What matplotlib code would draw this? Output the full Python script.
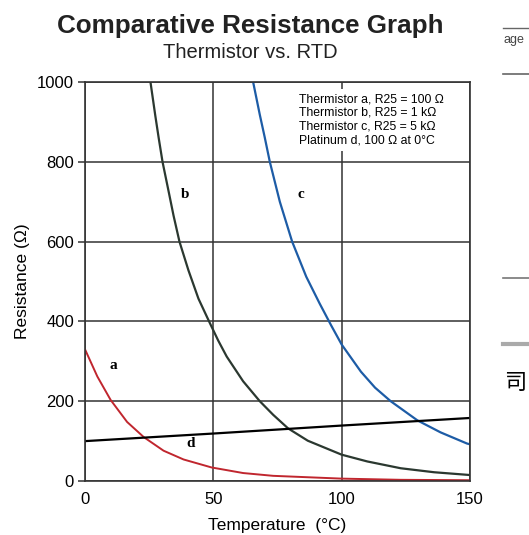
"""
    plot.py

    Comparative resistance graph: thermistor vs. RTD
"""

import numpy as np
import matplotlib
matplotlib.use("Agg")
import matplotlib.pyplot as plt
from matplotlib.lines import Line2D

# curve a: thermistor, R25 = 100 ohm
temp_a = [0, 4.8, 10, 16.4, 22.9, 30.6, 38.4, 49.3, 61.6, 73.3, 100, 123, 150]
res_a = [330, 262, 203, 148, 110, 76, 54, 34, 20, 13, 6, 3, 2]

# curve b: thermistor, R25 = 1 kohm
temp_b = [24, 25.5, 27.4, 28.7, 30.2, 32.6, 34.5, 36.8, 40.3, 44.2, 48.7,
          51.9, 55.2, 61.6, 68.1, 73.3, 79.1, 86.8, 100, 110, 123, 136, 150]
res_b = [1070, 1000, 915, 860, 800, 725, 665, 600, 528, 457, 395,
         352, 312, 250, 200, 166, 132, 101, 66, 49, 32, 22, 15]

# curve c: thermistor, R25 = 5 kohm
temp_c = [64, 65.5, 68.1, 70, 72, 75.9, 80.7, 86.2, 91.4, 95.9, 100,
          107.5, 113, 119.1, 129.5, 138.5, 148.8, 150]
res_c = [1060, 1000, 918, 862, 800, 700, 600, 512, 445, 390, 342,
         274, 234, 200, 152, 122, 94, 92]

# curve d: platinum RTD, 100 ohm at 0 C
temp_d = [0, 50, 100, 150]
res_d = [100, 119, 139, 158]

legend_lines = ["Thermistor a, R25 = 100 \u03a9",
                "Thermistor b, R25 = 1 k\u03a9",
                "Thermistor c, R25 = 5 k\u03a9",
                "Platinum d, 100 \u03a9 at 0\u00b0C"]

plt.rcParams['font.family'] = ['Liberation Sans', 'DejaVu Sans']

fig = plt.figure(figsize=(5.29, 5.35), dpi=100)
ax = fig.add_axes([0.1607, 0.1009, 0.7278, 0.7458])

kw = dict(solid_joinstyle='round', solid_capstyle='round')
ax.plot(temp_a, res_a, color='#c0262e', lw=1.4, **kw)
ax.plot(temp_b, res_b, color='#2b3830', lw=1.6, **kw)
ax.plot(temp_c, res_c, color='#1d5ca6', lw=1.6, **kw)
ax.plot(temp_d, res_d, color='black', lw=1.6, **kw)

ax.set_xlim(0, 150)
ax.set_ylim(0, 1000)
ax.set_xticks([0, 50, 100, 150])
ax.set_yticks([0, 200, 400, 600, 800, 1000])
ax.grid(True, color='#333333', lw=1.1)
ax.set_axisbelow(True)
for s in ax.spines.values():
    s.set_color('#333333')
    s.set_linewidth(1.2)
ax.tick_params(axis='x', length=0, pad=8, labelsize=12)
ax.tick_params(axis='y', length=5, width=1.1, color='#333333', pad=3, labelsize=12)

ax.set_xlabel("Temperature  (\u00b0C)", fontsize=12.5, labelpad=8)
ax.set_ylabel("Resistance (\u03a9)", fontsize=12.5, labelpad=5)

ax.text(0.555, 0.972, "\n".join(legend_lines), transform=ax.transAxes,
        fontsize=8.8, va='top', ha='left', linespacing=1.2,
        bbox=dict(facecolor='white', edgecolor='none', pad=3), zorder=5)

serif = ['Liberation Serif', 'DejaVu Serif']
ax.text(11, 290, "a", family=serif, fontweight='bold', fontsize=11, ha='center', va='center')
ax.text(39, 718, "b", family=serif, fontweight='bold', fontsize=11, ha='center', va='center')
ax.text(84, 718, "c", family=serif, fontweight='bold', fontsize=11, ha='center', va='center')
ax.text(41, 95, "d", family=serif, fontweight='bold', fontsize=11, ha='center', va='center')

fig.text(0.473, 0.952, "Comparative Resistance Graph", fontsize=18.7,
         fontweight='bold', ha='center', va='center', color='#222222')
fig.text(0.473, 0.902, "Thermistor vs. RTD", fontsize=14.5,
         ha='center', va='center', color='#222222')

# bits of the neighbouring page on the right edge
fig.text(0.951, 0.925, "age", fontsize=9, ha='left', va='center', color='#444444')
for yy, c, w in [(0.947, '#666666', 1.0), (0.862, '#666666', 1.2),
                 (0.480, '#777777', 1.2), (0.357, '#aaaaaa', 3.0)]:
    fig.add_artist(Line2D([0.951, 1.0], [yy, yy], color=c, lw=w,
                          transform=fig.transFigure))
fig.text(0.953, 0.285, "\u53f8", fontsize=16, ha='left', va='center',
         family=['Noto Sans CJK SC', 'DejaVu Sans'])

plt.savefig('out.png', dpi=100)
